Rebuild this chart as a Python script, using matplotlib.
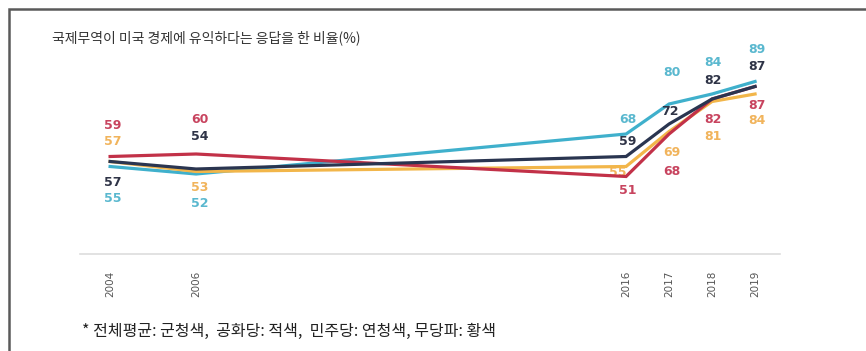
import matplotlib.pyplot as plt
from matplotlib.patches import Rectangle

plt.rcParams['font.family'] = ['Noto Sans CJK KR', 'DejaVu Sans']

years = [2004, 2006, 2016, 2017, 2018, 2019]
overall = [57, 54, 59, 72, 82, 87]      # 전체평균
republican = [59, 60, 51, 68, 82, 87]   # 공화당
democrat = [55, 52, 68, 80, 84, 89]     # 민주당
independent = [57, 53, 55, 69, 81, 84]  # 무당파

title = '국제무역이 미국 경제에 유익하다는 응답을 한 비율(%)'
note = '* 전체평균: 군청색,  공화당: 적색,  민주당: 연청색, 무당파: 황색'

# line colour, label colour, zorder, label offsets in pixels (dx, dy) per year
series = [
    (democrat, '#3fb0cc', '#5ab8cf', 2,
     [(3, -32), (4, -30), (2, 14), (3, 32), (1, 31), (2, 32)]),
    (independent, '#f2b64a', '#f1b45c', 3,
     [(3, 20), (4, -16), (-8, -6), (3, -21), (1, -35), (2, -26)]),
    (republican, '#c23148', '#c8445f', 4,
     [(3, 31), (4, 34), (2, -14), (3, -38), (1, -21), (2, -19)]),
    (overall, '#2a3550', '#2f3447', 5,
     [(3, -21), (4, 32), (2, 15), (1, 12), (1, 19), (2, 20)]),
]

fig = plt.figure(figsize=(8.66, 3.51), dpi=100)
ax = fig.add_axes([80 / 866, 97 / 351, 700 / 866, 214 / 351])

for vals, lc, tc, z, offs in series:
    ax.plot(years, vals, color=lc, lw=2.3, zorder=z, solid_joinstyle='miter')
    for x, v, (dx, dy) in zip(years, vals, offs):
        ax.annotate(str(v), (x, v), xytext=(dx, dy), textcoords='offset pixels',
                    ha='center', va='center', fontsize=9, fontweight='bold',
                    color=tc, family=['DejaVu Sans'],
                    zorder=1 if (x == 2016 and vals is independent) else 6)

ax.set_xlim(2003.3, 2019.58)
ax.set_ylim(20, 105.6)
ax.set_xticks(years)
ax.set_xticklabels([str(y) for y in years], rotation=90, fontsize=7.5,
                   color='#555555', family=['DejaVu Sans'])
ax.tick_params(axis='x', length=0, pad=12)
ax.set_yticks([])
for s in ['top', 'left', 'right']:
    ax.spines[s].set_visible(False)
ax.spines['bottom'].set_color('#dddddd')
ax.spines['bottom'].set_linewidth(1.2)

# frame around the chart (top and left edges visible)
fig.patches.append(Rectangle((9 / 866, -0.1), 1.2, (351 - 9) / 351 + 0.1,
                             transform=fig.transFigure, fill=False,
                             edgecolor='#5a5a5a', lw=1.8))

fig.text(52 / 866, 1 - 38 / 351, title, fontsize=10, color='#333333',
         ha='left', va='center')
fig.text(82 / 866, 1 - 331 / 351, note, fontsize=11.5, color='#222222',
         ha='left', va='center')

fig.savefig('out.png', dpi=100)
